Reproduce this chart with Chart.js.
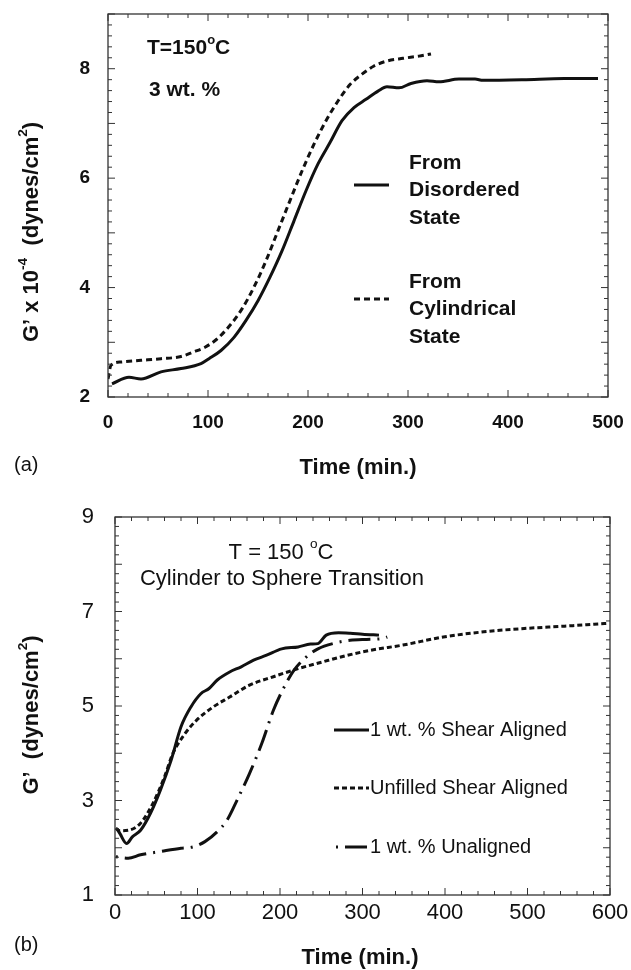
<!DOCTYPE html>
<html>
<head>
<meta charset="utf-8">
<script src="https://cdn.jsdelivr.net/npm/chart.js@4/dist/chart.umd.min.js"></script>
<style>
html, body { margin: 0; padding: 0; background: #fff; }
#wrap { position: relative; width: 631px; height: 970px; }
.box { position: absolute; left: 0; width: 631px; }
#boxA { top: 0; height: 490px; }
#boxB { top: 490px; height: 480px; }
</style>
</head>
<body>
<div id="wrap">
  <div class="box" id="boxA"><canvas id="chartA"></canvas></div>
  <div class="box" id="boxB"><canvas id="chartB"></canvas></div>
</div>
<script>
// (a) G' x 10^-4 vs time, 3 wt. %
const timeDisordered = [4, 21, 33, 53, 73, 93, 101, 113, 126, 138, 150, 162, 174, 186, 198, 210, 222, 234, 246, 258, 270, 279, 291, 303, 319, 331, 351, 367, 375, 415, 456, 490]
const gDisordered = [2.24, 2.36, 2.33, 2.46, 2.52, 2.61, 2.70, 2.85, 3.09, 3.40, 3.76, 4.19, 4.67, 5.22, 5.77, 6.26, 6.65, 7.05, 7.29, 7.44, 7.59, 7.67, 7.65, 7.73, 7.78, 7.76, 7.81, 7.81, 7.79, 7.80, 7.82, 7.82]
const timeCylindrical = [0, 3, 13, 33, 53, 73, 85, 97, 109, 122, 134, 146, 158, 170, 182, 194, 206, 218, 230, 242, 254, 266, 279, 295, 311, 323]
const gCylindrical = [2.33, 2.58, 2.64, 2.67, 2.70, 2.74, 2.82, 2.91, 3.06, 3.31, 3.61, 4.01, 4.49, 5.04, 5.59, 6.13, 6.62, 7.05, 7.41, 7.71, 7.90, 8.05, 8.14, 8.19, 8.23, 8.27]
const ticksA_x = [0, 100, 200, 300, 400, 500]
const ticksA_y = [2, 4, 6, 8]

// (b) G' vs time, cylinder to sphere transition
const timeShear1 = [2, 6, 14, 21, 31, 43, 55, 68, 80, 92, 104, 114, 124, 139, 153, 168, 183, 202, 222, 237, 246, 256, 271, 285, 300, 320]
const gShear1 = [2.41, 2.30, 2.09, 2.23, 2.37, 2.73, 3.22, 3.85, 4.56, 4.98, 5.26, 5.37, 5.55, 5.72, 5.83, 5.97, 6.07, 6.21, 6.25, 6.31, 6.32, 6.50, 6.55, 6.54, 6.52, 6.50]
const timeUnfilled = [1, 6, 16, 31, 46, 60, 70, 85, 99, 119, 139, 163, 192, 222, 251, 281, 310, 349, 398, 447, 496, 545, 599]
const gUnfilled = [2.41, 2.36, 2.37, 2.52, 2.94, 3.50, 3.99, 4.42, 4.70, 4.98, 5.19, 5.44, 5.62, 5.79, 5.93, 6.07, 6.18, 6.29, 6.46, 6.57, 6.64, 6.69, 6.75]
const timeUnaligned = [1, 16, 31, 55, 80, 95, 109, 124, 136, 148, 163, 178, 192, 205, 217, 232, 246, 266, 285, 305, 325, 330]
const gUnaligned = [1.81, 1.78, 1.85, 1.92, 1.99, 2.02, 2.13, 2.34, 2.59, 3.01, 3.57, 4.21, 4.91, 5.40, 5.76, 6.04, 6.21, 6.33, 6.39, 6.41, 6.43, 6.46]
const ticksB_x = [0, 100, 200, 300, 400, 500, 600]
const ticksB_y = [1, 3, 5, 7, 9]

const FONT = '"Liberation Sans", Arial, Helvetica, sans-serif'
const INK = '#111'

const toXY = (xs, ys) => xs.map((x, i) => ({x: x, y: ys[i]}))

// text with superscript pieces, parts = [{t, sup}]
const drawRich = (ctx, parts, x, y, size, bold, align) => {
    const font = s => (bold ? 'bold ' : '') + s + 'px ' + FONT
    let w = 0
    parts.forEach(p => {
        ctx.font = font(p.sup ? size * 0.62 : size)
        w += ctx.measureText(p.t).width
    })
    let cx = align === 'center' ? x - w / 2 : x
    ctx.textAlign = 'left'
    ctx.textBaseline = 'middle'
    parts.forEach(p => {
        const s = p.sup ? size * 0.62 : size
        ctx.font = font(s)
        ctx.fillText(p.t, cx, p.sup ? y - size * 0.38 : y)
        cx += ctx.measureText(p.t).width
    })
}

const drawRotated = (ctx, parts, x, y, size, bold) => {
    ctx.save()
    ctx.translate(x, y)
    ctx.rotate(-Math.PI / 2)
    drawRich(ctx, parts, 0, 0, size, bold, 'center')
    ctx.restore()
}

// legend sample drawn with the dataset's own stroke style
const drawSample = (ctx, ds, x1, x2, y) => {
    ctx.save()
    ctx.strokeStyle = ds.borderColor
    ctx.lineWidth = ds.borderWidth
    ctx.setLineDash(ds.borderDash || [])
    ctx.beginPath()
    ctx.moveTo(x1, y)
    ctx.lineTo(x2, y)
    ctx.stroke()
    ctx.restore()
}

const noPad = s => {
    s.paddingTop = 0
    s.paddingBottom = 0
    s.paddingLeft = 0
    s.paddingRight = 0
}

// box round the plot with inward ticks on all four sides, then the notes
const makeFrame = (id, minorX, majorX, minorY, majorY, notes) => ({
    id: id,
    afterDatasetsDraw(chart) {
        const {ctx, chartArea: a, scales} = chart
        ctx.save()
        ctx.strokeStyle = '#333'
        ctx.lineWidth = 1.3
        ctx.strokeRect(a.left, a.top, a.right - a.left, a.bottom - a.top)
        ctx.lineWidth = 1
        ctx.beginPath()
        const xs = scales.x, ys = scales.y
        for (let v = xs.min; v <= xs.max + 1e-6; v += minorX) {
            const major = Math.abs(v / majorX - Math.round(v / majorX)) < 1e-6
            const len = major ? 7 : 4
            const px = xs.getPixelForValue(v)
            ctx.moveTo(px, a.bottom); ctx.lineTo(px, a.bottom - len)
            ctx.moveTo(px, a.top); ctx.lineTo(px, a.top + len)
        }
        for (let v = ys.min; v <= ys.max + 1e-6; v += minorY) {
            const major = Math.abs(v / majorY - Math.round(v / majorY)) < 1e-6
            const len = major ? 7 : 4
            const py = ys.getPixelForValue(v)
            ctx.moveTo(a.left, py); ctx.lineTo(a.left + len, py)
            ctx.moveTo(a.right, py); ctx.lineTo(a.right - len, py)
        }
        ctx.stroke()
        ctx.restore()
    },
    afterDraw(chart) {
        const ctx = chart.ctx
        ctx.save()
        ctx.fillStyle = INK
        notes(ctx, chart.data.datasets)
        ctx.restore()
    }
})

const notesA = (ctx, ds) => {
    drawRich(ctx, [{t: 'T=150'}, {t: 'o', sup: true}, {t: 'C'}], 147, 48, 21, true)
    drawRich(ctx, [{t: '3 wt. %'}], 149, 90, 21, true)
    drawSample(ctx, ds[0], 354, 389, 185)
    drawRich(ctx, [{t: 'From'}], 409, 163, 21, true)
    drawRich(ctx, [{t: 'Disordered'}], 409, 190, 21, true)
    drawRich(ctx, [{t: 'State'}], 409, 218, 21, true)
    drawSample(ctx, ds[1], 354, 389, 299)
    drawRich(ctx, [{t: 'From'}], 409, 282, 21, true)
    drawRich(ctx, [{t: 'Cylindrical'}], 409, 309, 21, true)
    drawRich(ctx, [{t: 'State'}], 409, 337, 21, true)
    drawRich(ctx, [{t: 'Time (min.)'}], 358, 468, 22, true, 'center')
    drawRotated(ctx, [{t: 'G’ x 10'}, {t: '-4', sup: true}, {t: '  (dynes/cm'}, {t: '2', sup: true}, {t: ')'}], 32, 232, 22, true)
    drawRich(ctx, [{t: '(a)'}], 14, 465, 20, false)
}

const notesB = (ctx, ds) => {
    drawRich(ctx, [{t: 'T = 150 '}, {t: 'o', sup: true}, {t: 'C'}], 281, 63, 22, false, 'center')
    drawRich(ctx, [{t: 'Cylinder to Sphere Transition'}], 282, 89, 22, false, 'center')
    drawSample(ctx, ds[0], 334, 369, 240)
    drawRich(ctx, [{t: '1 wt. % Shear Aligned'}], 370, 240, 20, false)
    drawSample(ctx, ds[1], 334, 369, 298)
    drawRich(ctx, [{t: 'Unfilled Shear Aligned'}], 370, 298, 20, false)
    drawSample(ctx, ds[2], 336, 369, 357)
    drawRich(ctx, [{t: '1 wt. % Unaligned'}], 370, 357, 20, false)
    drawRich(ctx, [{t: 'Time (min.)'}], 360, 468, 22, true, 'center')
    drawRotated(ctx, [{t: 'G’  (dynes/cm'}, {t: '2', sup: true}, {t: ')'}], 32, 225, 22, true)
    drawRich(ctx, [{t: '(b)'}], 14, 455, 20, false)
}

const chartA = new Chart(document.getElementById('chartA'), {
    type: 'line',
    data: {
        datasets: [{
            label: 'From Disordered State',
            data: toXY(timeDisordered, gDisordered),
            borderColor: INK,
            borderWidth: 3,
            pointRadius: 0,
            cubicInterpolationMode: 'monotone',
        }, {
            label: 'From Cylindrical State',
            data: toXY(timeCylindrical, gCylindrical),
            borderColor: INK,
            borderWidth: 3,
            borderDash: [6, 4],
            pointRadius: 0,
            cubicInterpolationMode: 'monotone',
        }]
    },
    options: {
        animation: false,
        responsive: true,
        maintainAspectRatio: false,
        layout: {padding: {top: 14, right: 23, left: 0, bottom: 0}},
        plugins: {
            legend: {display: false},
            tooltip: {enabled: false}
        },
        scales: {
            x: {
                type: 'linear', min: 0, max: 500,
                afterBuildTicks: s => { s.ticks = ticksA_x.map(v => ({value: v})) },
                afterFit: s => { s.height = 93; noPad(s) },
                grid: {display: false, drawTicks: false},
                border: {display: false},
                ticks: {padding: 14, maxRotation: 0, color: INK, font: {family: FONT, size: 19, weight: 'bold'}}
            },
            y: {
                type: 'linear', min: 2, max: 9,
                afterBuildTicks: s => { s.ticks = ticksA_y.map(v => ({value: v})) },
                afterFit: s => { s.width = 108; noPad(s) },
                grid: {display: false, drawTicks: false},
                border: {display: false},
                ticks: {padding: 18, color: INK, font: {family: FONT, size: 19, weight: 'bold'}}
            }
        }
    },
    plugins: [makeFrame('frameA', 20, 100, 0.2, 1, notesA)]
})

const chartB = new Chart(document.getElementById('chartB'), {
    type: 'line',
    data: {
        datasets: [{
            label: '1 wt. % Shear Aligned',
            data: toXY(timeShear1, gShear1),
            borderColor: INK,
            borderWidth: 3,
            pointRadius: 0,
            cubicInterpolationMode: 'monotone',
        }, {
            label: 'Unfilled Shear Aligned',
            data: toXY(timeUnfilled, gUnfilled),
            borderColor: INK,
            borderWidth: 3,
            borderDash: [5, 3],
            pointRadius: 0,
            cubicInterpolationMode: 'monotone',
        }, {
            label: '1 wt. % Unaligned',
            data: toXY(timeUnaligned, gUnaligned),
            borderColor: INK,
            borderWidth: 3,
            borderDash: [2, 7, 22, 7],
            pointRadius: 0,
            cubicInterpolationMode: 'monotone',
        }]
    },
    options: {
        animation: false,
        responsive: true,
        maintainAspectRatio: false,
        layout: {padding: {top: 27, right: 21, left: 0, bottom: 0}},
        plugins: {
            legend: {display: false},
            tooltip: {enabled: false}
        },
        scales: {
            x: {
                type: 'linear', min: 0, max: 600,
                afterBuildTicks: s => { s.ticks = ticksB_x.map(v => ({value: v})) },
                afterFit: s => { s.height = 75; noPad(s) },
                grid: {display: false, drawTicks: false},
                border: {display: false},
                ticks: {padding: 5, maxRotation: 0, color: INK, font: {family: FONT, size: 22}}
            },
            y: {
                type: 'linear', min: 1, max: 9,
                afterBuildTicks: s => { s.ticks = ticksB_y.map(v => ({value: v})) },
                afterFit: s => { s.width = 115; noPad(s) },
                grid: {display: false, drawTicks: false},
                border: {display: false},
                ticks: {padding: 21, color: INK, font: {family: FONT, size: 22}}
            }
        }
    },
    plugins: [makeFrame('frameB', 20, 100, 0.2, 1, notesB)]
})
</script>
</body>
</html>
